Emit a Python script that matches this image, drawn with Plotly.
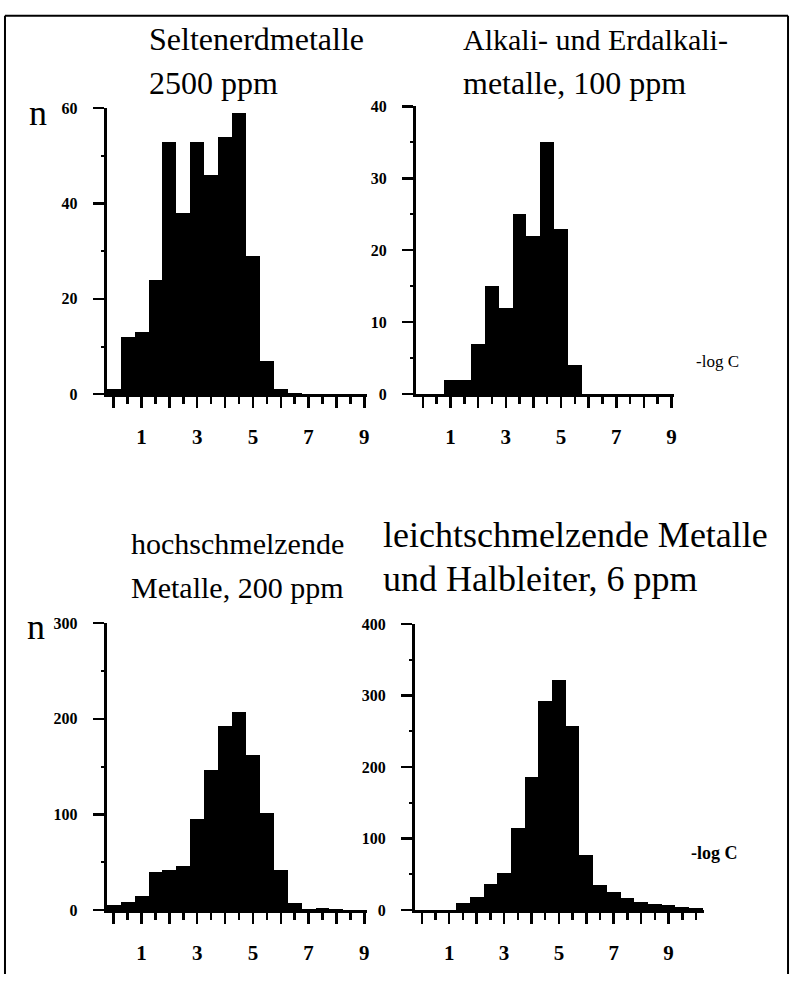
import plotly.graph_objects as go

W, H = 798, 983

# ---------------- data ----------------
p1_bins = [0.0, 0.5, 1.0, 1.5, 2.0, 2.5, 3.0, 3.5, 4.0, 4.5, 5.0, 5.5, 6.0, 6.5]
p1_n = [1, 12, 13, 24, 53, 38, 53, 46, 54, 59, 29, 7, 1, 0.3]

p2_bins = [1.0, 1.5, 2.0, 2.5, 3.0, 3.5, 4.0, 4.5, 5.0, 5.5]
p2_n = [2, 2, 7, 15, 12, 25, 22, 35, 23, 4]

p3_bins = [0.0, 0.5, 1.0, 1.5, 2.0, 2.5, 3.0, 3.5, 4.0, 4.5, 5.0, 5.5, 6.0, 6.5, 7.0, 7.5, 8.0]
p3_n = [5, 9, 15, 40, 42, 46, 95, 147, 193, 207, 162, 102, 42, 7, 1, 2, 1]

p4_bins = [1.5, 2.0, 2.5, 3.0, 3.5, 4.0, 4.5, 5.0, 5.5, 6.0, 6.5, 7.0, 7.5, 8.0, 8.5, 9.0, 9.5, 10.0]
p4_n = [10, 18, 37, 52, 115, 186, 292, 322, 257, 77, 35, 25, 17, 11, 9, 7, 5, 3]

x_tickvals = [0, 1, 2, 3, 4, 5, 6, 7, 8, 9]
x_ticktext = ["", "1", "", "3", "", "5", "", "7", "", "9"]

titles = [
    ["Seltenerdmetalle", "2500 ppm"],
    ["Alkali- und Erdalkali-", "metalle, 100 ppm"],
    ["hochschmelzende", "Metalle, 200 ppm"],
    ["leichtschmelzende Metalle", "und Halbleiter, 6 ppm"],
]
x_label = "-log C"
y_label = "n"

# ---------------- layout helpers ----------------
def fx(p):
    return p / W

def fy(p):
    return 1 - p / H

# panel pixel boxes: (left, right, top, bottom), x-range, y-range, y dtick
panels = [
    dict(box=(107, 368, 102, 393), xr=[-0.25, 9.1], yr=[0, 60], dt=20, bins=p1_bins, n=p1_n),
    dict(box=(417, 676, 100, 393), xr=[-0.25, 9.1], yr=[0, 40], dt=10, bins=p2_bins, n=p2_n),
    dict(box=(107, 368, 626, 918), xr=[-0.25, 9.1], yr=[0, 300], dt=100, bins=p3_bins, n=p3_n),
    dict(box=(416, 706, 627, 918), xr=[-0.25, 10.3], yr=[0, 400], dt=100, bins=p4_bins, n=p4_n),
]

SERIF = "Liberation Serif"

fig = go.Figure()
layout = dict(
    width=W, height=H,
    margin=dict(l=0, r=0, t=0, b=0),
    paper_bgcolor="white", plot_bgcolor="white",
    showlegend=False, bargap=0,
    font=dict(family=SERIF, color="black"),
)

for i, p in enumerate(panels):
    k = "" if i == 0 else str(i + 1)
    l, r, t, b = p["box"]
    fig.add_trace(go.Bar(
        x=p["bins"], y=p["n"], width=0.5,
        marker=dict(color="black", line=dict(width=0)),
        xaxis="x" + k, yaxis="y" + k, hoverinfo="skip",
    ))
    layout["xaxis" + k] = dict(
        domain=[fx(l), fx(r)], range=p["xr"], anchor="y" + k,
        showgrid=False, zeroline=False,
        showline=True, linewidth=3, linecolor="black",
        ticks="outside", ticklen=11, tickwidth=2.5, tickcolor="black",
        tickvals=x_tickvals, ticktext=x_ticktext,
        ticklabelstandoff=11,
        tickfont=dict(family=SERIF, size=21, color="black", weight="bold"),
        minor=dict(dtick=0.5, tick0=0, ticks="outside", ticklen=7, tickwidth=2.5, tickcolor="black"),
        fixedrange=True,
    )
    layout["yaxis" + k] = dict(
        domain=[fy(b), fy(t)], range=p["yr"], anchor="x" + k,
        showgrid=False, zeroline=False,
        showline=True, linewidth=3, linecolor="black",
        ticks="outside", ticklen=11, tickwidth=2.5, tickcolor="black",
        dtick=p["dt"], tick0=0,
        ticklabelstandoff=12,
        tickfont=dict(family=SERIF, size=16, color="black", weight="bold"),
        minor=dict(dtick=p["dt"] / 2, tick0=0, ticks="outside", ticklen=3, tickwidth=2, tickcolor="black"),
        fixedrange=True,
    )

fig.update_layout(**layout)

annots = []
# titles (two lines each): left x, (y line1, size1), (y line2, size2)
title_pos = [
    (147, (32, 32), (76, 32)),
    (462, (32, 30), (76, 32)),
    (129, (545, 30), (590, 30)),
    (382, (536, 36), (581, 36)),
]
for (lines, (lx, l1, l2)) in zip(titles, title_pos):
    for txt, (yy, fs) in zip(lines, (l1, l2)):
        annots.append(dict(
            x=fx(lx), y=fy(yy), xref="paper", yref="paper",
            xanchor="left", yanchor="middle", showarrow=False,
            text=txt, font=dict(family=SERIF, size=fs, color="black"),
        ))

# axis name labels
for (xx, yy) in [(38, 107), (36, 630)]:
    annots.append(dict(
        x=fx(xx), y=fy(yy), xref="paper", yref="paper",
        xanchor="center", yanchor="middle", showarrow=False,
        text=y_label, font=dict(family=SERIF, size=36, color="black"),
    ))
annots.append(dict(
    x=fx(719), y=fy(360), xref="paper", yref="paper",
    xanchor="center", yanchor="middle", showarrow=False,
    text=x_label, font=dict(family=SERIF, size=17, color="black"),
))
annots.append(dict(
    x=fx(716), y=fy(860), xref="paper", yref="paper",
    xanchor="center", yanchor="middle", showarrow=False,
    text=x_label, font=dict(family=SERIF, size=18, color="black", weight="bold"),
))
fig.update_layout(annotations=annots)

# outer frame
frame = dict(type="line", xref="paper", yref="paper", line=dict(color="black", width=2))
fig.update_layout(shapes=[
    dict(frame, x0=fx(5), x1=fx(790), y0=fy(8), y1=fy(8)),
    dict(frame, x0=fx(5), x1=fx(5), y0=fy(8), y1=0),
    dict(frame, x0=fx(790), x1=fx(790), y0=fy(8), y1=0),
])

fig.write_html(
    "out.html",
    config={"displayModeBar": False, "staticPlot": True},
    post_script="document.body.style.margin='0';document.body.style.overflow='hidden';",
)
